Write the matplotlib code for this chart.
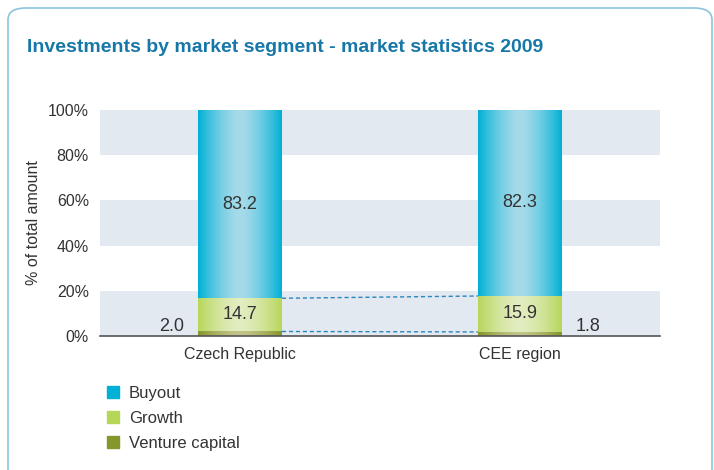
import numpy as np
import matplotlib
matplotlib.use('Agg')
import matplotlib.pyplot as plt
import matplotlib.patches as mpatches
from matplotlib.colors import LinearSegmentedColormap

# data
regions = ['Czech Republic', 'CEE region']
venture = [2.0, 1.8]
growth = [14.7, 15.9]
buyout = [83.2, 82.3]
segments = ['Buyout', 'Growth', 'Venture capital']
yticks = [0, 20, 40, 60, 80, 100]

plt.rcParams['font.family'] = ['Liberation Sans', 'DejaVu Sans']

c_buy = '#00b0d6'
c_gro = '#b6d65a'
c_ven = '#86962a'
txt = '#333333'

fig = plt.figure(figsize=(7.14, 4.70), dpi=100)

# rounded frame, bottom runs off the canvas
frame = mpatches.FancyBboxPatch((8/714, -30/470), 704/714, 492/470,
                                boxstyle='round,pad=0,rounding_size=0.025',
                                transform=fig.transFigure, fill=False,
                                edgecolor='#8cc3dc', linewidth=1.2)
fig.patches.append(frame)

fig.text(27/714, 1 - 47/470, 'Investments by market segment - market statistics 2009',
         fontsize=14, fontweight='bold', color='#1778a8', va='center', ha='left')

ax = fig.add_axes([100/714, 1 - 336/470, 560/714, 226/470])
x = np.arange(len(regions))
w = 0.3

# background bands
for lo in (0, 40, 80):
    ax.axhspan(lo, lo + 20, color='#e3e9f1', zorder=0, lw=0)

b1 = ax.bar(x, venture, w, color=c_ven, zorder=2)
b2 = ax.bar(x, growth, w, bottom=venture, color=c_gro, zorder=2)
bottom2 = [a + b for a, b in zip(venture, growth)]
b3 = ax.bar(x, buyout, w, bottom=bottom2, color=c_buy, zorder=2)

# cylinder-like shading on the bars
grad = np.abs(np.linspace(-1, 1, 200)) ** 1.5
for bars, base, light in ((b1, c_ven, '#c2c48a'), (b2, c_gro, '#e2edc0'), (b3, c_buy, '#a6dbea')):
    cmap = LinearSegmentedColormap.from_list('g', [light, base])
    for p in bars:
        x0, y0 = p.get_x(), p.get_y()
        ax.imshow(grad[None, :], cmap=cmap, aspect='auto', zorder=3,
                  extent=(x0, x0 + p.get_width(), y0, y0 + p.get_height()))

# dashed connectors
ax.plot([x[0] + w/2, x[1] - w/2], [bottom2[0], bottom2[1]], ls='--', color='#2a86c0', lw=1, zorder=1, dashes=(3, 2))
ax.plot([x[0] + w/2, x[1] - w/2], [venture[0], venture[1]], ls='--', color='#2a86c0', lw=1, zorder=1, dashes=(3, 2))

# labels
for i in range(len(regions)):
    ax.text(x[i], bottom2[i] + buyout[i] / 2, f'{buyout[i]:.1f}', ha='center', va='center',
            fontsize=13, color=txt, zorder=4)
    ax.text(x[i], venture[i] + growth[i] / 2, f'{growth[i]:.1f}', ha='center', va='center',
            fontsize=13, color=txt, zorder=4)
ax.text(x[0] - w/2 - 0.05, 0.5, f'{venture[0]:.1f}', ha='right', va='bottom', fontsize=13, color=txt)
ax.text(x[1] + w/2 + 0.05, 0.5, f'{venture[1]:.1f}', ha='left', va='bottom', fontsize=13, color=txt)

ax.set_xlim(-0.5, 1.5)
ax.set_ylim(0, 100)
ax.set_xticks(x)
ax.set_xticklabels(regions, fontsize=11.5, color=txt)
ax.set_yticks(yticks)
ax.set_yticklabels([f'{v}%' for v in yticks], fontsize=11.5, color=txt)
ax.tick_params(length=0, pad=8)
ax.tick_params(axis='x', pad=8)
for s in ('top', 'right', 'left'):
    ax.spines[s].set_visible(False)
ax.spines['bottom'].set_color('#555555')
ax.spines['bottom'].set_linewidth(1.2)
ax.spines['bottom'].set_zorder(5)
ax.set_ylabel('% of total amount', fontsize=11.5, color=txt, labelpad=5)

handles = [mpatches.Patch(color=c) for c in (c_buy, c_gro, c_ven)]
fig.legend(handles, segments, loc='upper left', bbox_to_anchor=(92/714, 1 - 371/470),
           frameon=False, fontsize=12, handlelength=0.75, handleheight=0.75,
           handletextpad=0.55, labelspacing=0.6, labelcolor=txt)

fig.savefig('out.png', dpi=100)
